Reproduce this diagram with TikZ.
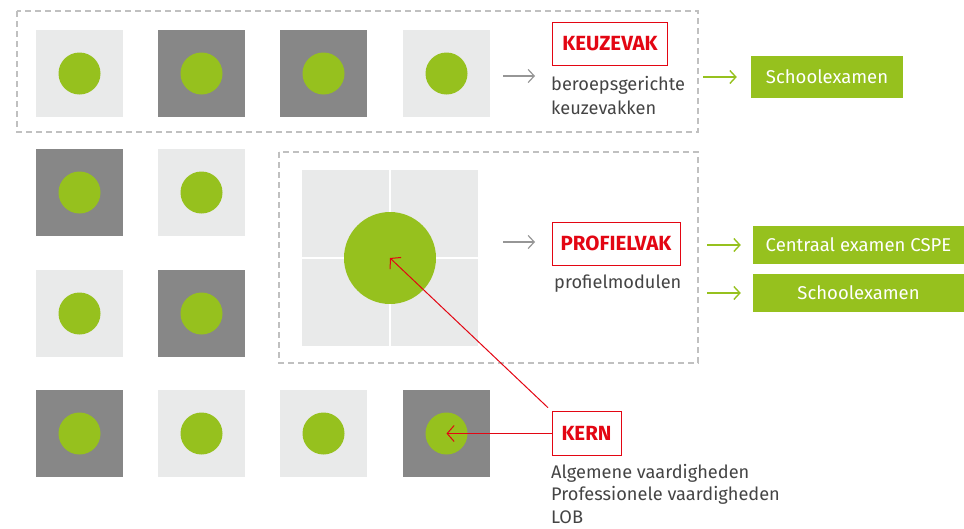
\documentclass[tikz,border=0pt]{standalone}
\usepackage{fontspec}
\setmainfont{Fira Sans}
\usepackage{tikz}
\usetikzlibrary{arrows.meta,positioning}
\definecolor{Groen}{RGB}{150,193,30}
\definecolor{DonkerGrijs}{RGB}{135,135,135}
\definecolor{LichtGrijs}{RGB}{233,234,234}
\definecolor{KaderGrijs}{RGB}{192,192,192}
\definecolor{PijlGrijs}{RGB}{150,150,150}
\definecolor{Rood}{RGB}{227,6,19}
\definecolor{TekstGrijs}{RGB}{68,68,68}

\tikzset{
  tile/.style={minimum size=87pt, inner sep=0pt, outer sep=0pt},
  light tile/.style={tile, fill=LichtGrijs},
  dark tile/.style={tile, fill=DonkerGrijs},
  dot/.style={circle, fill=Groen, minimum size=42pt, inner sep=0pt},
  kader/.style={draw=KaderGrijs, line width=1.3pt, dash pattern=on 6pt off 4pt},
  vakbox/.style={draw=Rood, line width=0.9pt, text=Rood, font=\fontsize{20.5}{22}\selectfont\bfseries,
    minimum height=43pt, inner sep=0pt},
  uitleg/.style={text=TekstGrijs, font=\fontsize{18.2}{23.5}\selectfont, align=left, inner sep=0pt},
  examen/.style={fill=Groen, text=white, font=\fontsize{18.5}{20}\selectfont, minimum height=42pt, inner sep=0pt},
  grijspijl/.style={draw=PijlGrijs, line width=1.2pt, -{Straight Barb[length=6pt,width=13pt]}},
  groenpijl/.style={draw=Groen, line width=1.4pt, -{Straight Barb[length=6pt,width=13pt]}},
  rodepijl/.style={draw=Rood, line width=1pt, -{Straight Barb[length=7pt,width=16pt]}}
}

\begin{document}
\begin{tikzpicture}[x=1pt,y=-1pt]
\useasboundingbox (0,0) rectangle (964,528);
% kaders
\draw[kader] (17,11) rectangle (698,132);
\draw[kader] (279,152) rectangle (698,363);
% tegels met stippen
\foreach \x/\y/\kleur [count=\i] in {79.5/73.5/light, 201.5/73.5/dark, 323.5/73.5/dark, 446.5/73.5/light,
    79.5/192.5/dark, 201.5/192.5/light, 79.5/313.5/light, 201.5/313.5/dark,
    79.5/433.5/dark, 201.5/433.5/light, 323.5/433.5/light, 446.5/433.5/dark}{
  \node[\kleur\space tile] (tile\i) at (\x,\y) {};
  \node[dot] (dot\i) at (tile\i.center) {};
}
% profielvak: vier vakken met grote stip
\node[light tile] (kwart1) at (345.5,213.5) {};
\node[light tile] (kwart2) at (434.5,213.5) {};
\node[light tile] (kwart3) at (345.5,302.5) {};
\node[light tile] (kwart4) at (434.5,302.5) {};
\node[dot, minimum size=92pt] (bigdot) at (390,258) {};
%
% rode labels
\node[vakbox, minimum width=115pt] (keuzevak) at (610,44) {KEUZEVAK};
\node[vakbox, minimum width=128pt] (profielvak) at (616,243.5) {PROFIELVAK};
\node[vakbox, minimum width=69pt, minimum height=44pt] (kern) at (586.5,433.5) {KERN};
\node[uitleg, anchor=north west] (keuzetekst) at (551,76.5) {beroepsgerichte\\keuzevakken};
\node[uitleg, anchor=north west] (profieltekst) at (554,274.5) {profielmodulen};
\node[uitleg, anchor=north west, font=\fontsize{18.2}{22.5}\selectfont] (kerntekst) at (551,464) {Algemene vaardigheden\\Professionele vaardigheden\\LOB};
%
% examens
\node[examen, minimum width=152pt] (school1) at (827,77) {Schoolexamen};
\node[examen, minimum width=211pt, minimum height=38pt] (centraal) at (858.5,245) {Centraal examen CSPE};
\node[examen, minimum width=211pt, minimum height=38pt] (school2) at (858.5,293) {Schoolexamen};
%
% pijlen
\coordinate (grijs1) at (503,76);
\coordinate (grijs2) at (503,242);
\draw[grijspijl] (grijs1) -- ++(32,0);
\draw[grijspijl] (grijs2) -- ++(32,0);
\coordinate (groen1) at (703,77);
\coordinate (groen2) at (707,245);
\coordinate (groen3) at (707,293);
\draw[groenpijl, shorten >=14pt] (groen1) -- (school1.west);
\draw[groenpijl, shorten >=12pt] (groen2) -- (centraal.west);
\draw[groenpijl, shorten >=12pt] (groen3) -- (school2.west);
\draw[rodepijl] (kern.west) -- (dot12.center);
\draw[rodepijl, shorten <=5pt] (kern.north west) -- (bigdot.center);
%
\end{tikzpicture}
\end{document}
